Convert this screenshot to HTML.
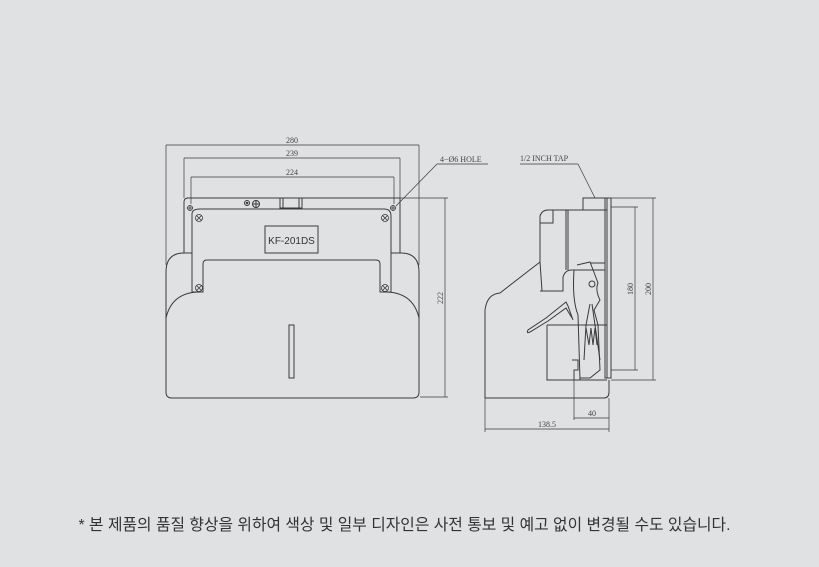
<!DOCTYPE html>
<html><head><meta charset="utf-8"><style>
html,body{margin:0;padding:0;background:#e0e1e3;width:819px;height:567px;overflow:hidden}
svg{position:absolute;left:0;top:0}
.n{position:absolute;left:0;width:809px;top:512px;text-align:center;font:15.8px "Liberation Sans","Noto Sans CJK KR",sans-serif;color:#333}
</style></head><body>
<svg width="819" height="567" viewBox="0 0 819 567" fill="none" stroke="#3a3a3a" stroke-width="1" font-family="Liberation Serif,serif" font-size="8">
<g stroke-width="0.7">
<line x1="166" y1="145" x2="419" y2="145"/><line x1="166" y1="145" x2="166" y2="265"/><line x1="419" y1="145" x2="419" y2="265"/>
<line x1="184" y1="158" x2="400" y2="158"/><line x1="184" y1="158" x2="184" y2="198"/><line x1="400" y1="158" x2="400" y2="198"/>
<line x1="191" y1="177" x2="394" y2="177"/><line x1="191" y1="177" x2="191" y2="204"/><line x1="394" y1="177" x2="394" y2="204"/>
<line x1="400" y1="198" x2="448" y2="198"/><line x1="420" y1="397" x2="448" y2="397"/>
<line x1="445" y1="198" x2="445" y2="397"/>
<line x1="396" y1="206" x2="437" y2="164"/><line x1="437" y1="164" x2="488" y2="164"/>
</g>
<g fill="#444" stroke="none">
<text x="292" y="143" text-anchor="middle">280</text>
<text x="292" y="156" text-anchor="middle">239</text>
<text x="292" y="175" text-anchor="middle">224</text>
<text x="440" y="162">4−Ø6 HOLE</text>
<text transform="translate(443,298) rotate(-90)" text-anchor="middle">222</text>
</g>
<path d="M192 253 L184 253 Q166 253 166 272 L166 392 Q166 398 172 398 L413 398 Q419 398 419 392 L419 272 Q419 253 401 253 L391 253"/>
<path d="M166 318 Q172 292 200 292 M385 292 Q413 292 419 318"/>
<path d="M184 253 L184 202 Q184 198 188 198 L400 198 L400 253"/>
<path d="M192 292 L192 214 Q192 209 200 209 L384 209 Q391 209 391 216 L391 292 L380 292 L380 264 Q380 260 376 260 L207 260 Q203 260 203 264 L203 292 Z"/>
<rect x="265" y="226" width="53" height="27"/>
<text x="291.5" y="244" text-anchor="middle" font-family="Liberation Sans,sans-serif" font-size="10" fill="#333" stroke="none">KF-201DS</text>
<rect x="289" y="325" width="5" height="53"/>
<rect x="280" y="198" width="22" height="10"/><line x1="283" y1="198" x2="283" y2="208"/><line x1="299" y1="198" x2="299" y2="208"/>
<circle cx="247" cy="203" r="2.5"/><circle cx="247" cy="203" r="0.8"/>
<circle cx="256" cy="204" r="3.5"/><line x1="256" y1="200" x2="256" y2="208"/><line x1="252" y1="204" x2="260" y2="204"/>
<g stroke-width="0.8">
<circle cx="190" cy="208" r="2.5"/><line x1="187" y1="208" x2="193" y2="208"/><line x1="190" y1="205" x2="190" y2="211"/>
<circle cx="393" cy="208" r="2.5"/><line x1="390" y1="208" x2="396" y2="208"/><line x1="393" y1="205" x2="393" y2="211"/>
<circle cx="199" cy="218" r="3.5"/><path d="M196.5 215.5l5 5M201.5 215.5l-5 5"/>
<circle cx="385" cy="218" r="3.5"/><path d="M382.5 215.5l5 5M387.5 215.5l-5 5"/>
<circle cx="199" cy="288" r="3.5"/><path d="M196.5 285.5l5 5M201.5 285.5l-5 5"/>
<circle cx="385" cy="288" r="3.5"/><path d="M382.5 285.5l5 5M387.5 285.5l-5 5"/>
</g>
<g stroke-width="0.7">
<line x1="611" y1="198" x2="656" y2="198"/><line x1="611" y1="380" x2="656" y2="380"/><line x1="653" y1="198" x2="653" y2="380"/>
<line x1="611" y1="207" x2="638" y2="207"/><line x1="611" y1="370" x2="638" y2="370"/><line x1="635" y1="207" x2="635" y2="370"/>
<line x1="574" y1="380" x2="574" y2="420"/><line x1="609" y1="398" x2="609" y2="432"/><line x1="485" y1="398" x2="485" y2="432"/>
<line x1="574" y1="418" x2="609" y2="418"/><line x1="485" y1="429" x2="609" y2="429"/>
<line x1="520" y1="164" x2="578" y2="164"/><line x1="578" y1="164" x2="595" y2="198"/>
</g>
<g fill="#444" stroke="none">
<text x="520" y="161">1/2 INCH TAP</text>
<text transform="translate(633,289) rotate(-90)" text-anchor="middle">180</text>
<text transform="translate(651,289) rotate(-90)" text-anchor="middle">200</text>
<text x="592" y="416" text-anchor="middle">40</text>
<text x="547" y="427" text-anchor="middle">138.5</text>
</g>
<path d="M485 398 L485 310 Q487 294 500 293 L540 262"/>
<path d="M485 398 L604 398 Q609 398 609 392 L609 380"/>
<path d="M540 262 L540 216 Q542 210 548 210 L607 210"/>
<path d="M542 291 L540 262 M540 291 L563 291 L563 277 Q565 270 572 270 L605 270"/>
<rect x="583" y="198" width="22" height="12"/>
<path d="M605 198 L611 198 L611 378 L605 378 Z"/><line x1="607" y1="198" x2="607" y2="378"/>
<path d="M566 210 L566 270 M568 210 L568 270 M553 210 L553 223 L540 223"/>
<path d="M574 270 Q572 300 578 315 L580 380 M590 263 L605 263"/>
<path d="M577 265 L590 262 L595 275 L598 283 Q595 290 600 300 L594 310 L598 325 L600 370 L590 378 L580 378"/>
<circle cx="592" cy="284" r="3"/>
<path d="M547 325 L607 325 M547 325 L547 380 L607 380"/>
<path d="M590 304 L586 325 L584 360 M592 304 L600 360"/>
<path d="M586 328 L589 345 L591 328 L593 345 L595 328 L597 345"/>
<path d="M573 320 L568 306 L566 302 L546 318 L528 330 Q526 334 530 332 L548 321 L566 308 L572 318"/>
<path d="M572 360 L578 360 L578 370 L574 370 L574 380"/>
</svg>
<div class="n">* 본 제품의 품질 향상을 위하여 색상 및 일부 디자인은 사전 통보 및 예고 없이 변경될 수도 있습니다.</div>
</body></html>
